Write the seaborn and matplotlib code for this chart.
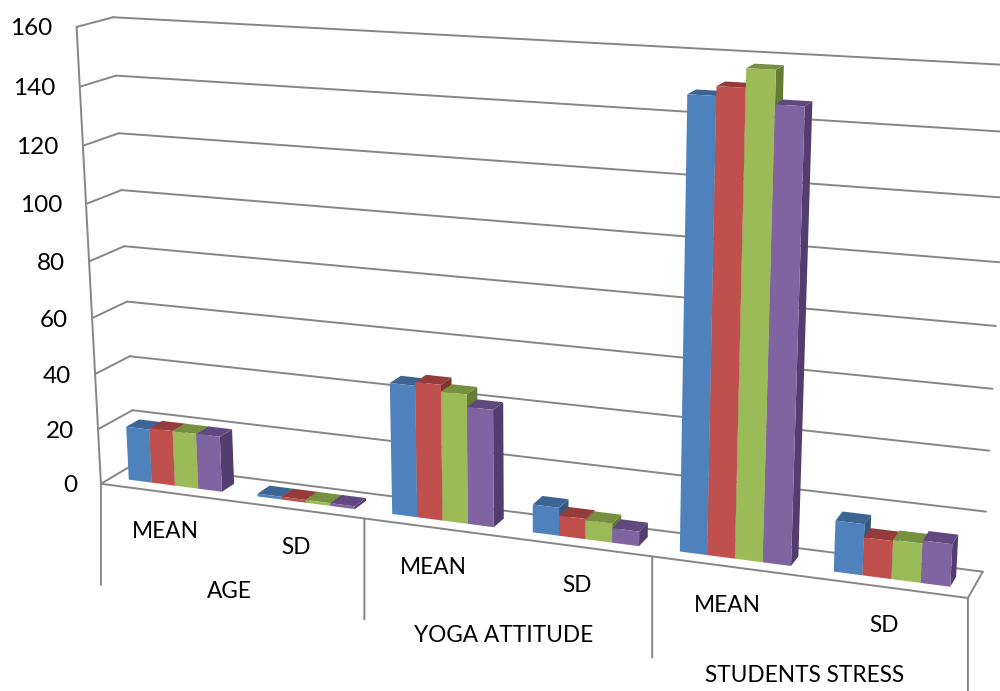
import numpy as np
import pandas as pd
import matplotlib
matplotlib.use("Agg")
import matplotlib.pyplot as plt
from matplotlib.transforms import Transform, Affine2D
import seaborn as sns

# Chart values
measures = ["AGE MEAN", "AGE SD", "YOGA MEAN", "YOGA SD", "STRESS MEAN", "STRESS SD"]
series_1 = [19.5, 1.0, 46, 9.7, 148.5, 17]
series_2 = [20, 1.0, 47.3, 7, 151.5, 12.6]
series_3 = [20, 1.0, 45, 6.6, 157.5, 13]
series_4 = [20, 1.0, 40.7, 5, 147, 14]
y_ticks = [0, 20, 40, 60, 80, 100, 120, 140, 160]
inner_labels = ["MEAN", "SD", "MEAN", "SD", "MEAN", "SD"]
outer_labels = ["AGE", "YOGA ATTITUDE", "STUDENTS STRESS"]
front_colors = ["#4F81BD", "#C0504D", "#9BBB59", "#8064A2"]
top_colors = ["#3C6594", "#953B39", "#75913F", "#61497F"]
side_colors = ["#345781", "#7F3230", "#657C37", "#523D6E"]

W, H = 1000, 691
GRID = "#868686"

# Box corners (category position, value, depth) and where they land on the canvas.
X0, X1, VMAX = -0.5, 5.5, 160
anchors = [
    ((X0, 0, 0), (101, 484)), ((X0, VMAX, 0), (77, 26.5)),
    ((X1, 0, 0), (968, 597)), ((1.5, 0, 0), (364, 519)), ((3.5, 0, 0), (652, 557)),
    ((X0, 0, 1), (135.5, 463)), ((X0, VMAX, 1), (113, 17.5)),
    ((X1, 0, 1), (983, 572)), ((X1, VMAX, 1), (1010, 65.5)),
    ((X0, 100, 1), (121, 190)), ((X1, 100, 1), (999, 262)),
]


def fit_camera(points):
    rows = []
    for (x, v, d), (px, py) in points:
        q = [x, v, d, 1]
        rows.append(q + [0, 0, 0, 0] + [-px * c for c in q])
        rows.append([0, 0, 0, 0] + q + [-py * c for c in q])
    _, _, vt = np.linalg.svd(np.array(rows, float))
    return vt[-1].reshape(3, 4)


CAMERA = fit_camera(anchors)


class Plane(Transform):
    """Projects 2D coordinates on one plane of the 3D box to display pixels."""
    input_dims = output_dims = 2

    def __init__(self, kind, fixed):
        super().__init__()
        self.kind, self.fixed = kind, fixed

    def transform_non_affine(self, values):
        a = np.asarray(values, float)
        f = np.full(len(a), float(self.fixed))
        if self.kind == "front":      # x, value at fixed depth
            xyz = np.c_[a[:, 0], a[:, 1], f]
        elif self.kind == "side":     # depth, value at fixed x
            xyz = np.c_[f, a[:, 1], a[:, 0]]
        else:                         # x, depth at fixed value
            xyz = np.c_[a[:, 0], f, a[:, 1]]
        h = np.c_[xyz, np.ones(len(a))] @ CAMERA.T
        return np.c_[h[:, 0] / h[:, 2], H - h[:, 1] / h[:, 2]]


sns.set_theme(style="white")
plt.rcParams["font.family"] = ["Lato", "DejaVu Sans"]
fig = plt.figure(figsize=(W / 100, H / 100), dpi=100, facecolor="white")
ax = fig.add_axes([0, 0, 1, 1])

table = pd.DataFrame({"measure": measures, "s1": series_1, "s2": series_2,
                      "s3": series_3, "s4": series_4})
long = table.melt(id_vars="measure", var_name="series", value_name="value")

# Front faces come from seaborn; they are then carried onto the front plane of the bars.
DEPTH_A, DEPTH_B = 0.31, 0.69
sns.barplot(data=long, x="measure", y="value", hue="series", order=measures,
            palette=front_colors, saturation=1, width=0.727, gap=0, errorbar=None,
            legend=False, linewidth=0, ax=ax)
ax.axis("off")

bars = [p for p in ax.patches]
front = Plane("front", DEPTH_A)
for i, bar in enumerate(bars):
    series_idx = i // len(measures)
    cat_idx = i % len(measures)
    x0, x1 = bar.get_x(), bar.get_x() + bar.get_width()
    value = bar.get_height()
    base_z = 10 + cat_idx * 10 + series_idx * 2
    bar.set_transform(front)
    bar.set_zorder(base_z + 1)
    ax.fill([DEPTH_A, DEPTH_B, DEPTH_B, DEPTH_A], [0, 0, value, value],
            color=side_colors[series_idx], lw=0, zorder=base_z,
            transform=Plane("side", x1))
    ax.fill([x0, x1, x1, x0], [DEPTH_A, DEPTH_A, DEPTH_B, DEPTH_B],
            color=top_colors[series_idx], lw=0, zorder=base_z,
            transform=Plane("top", value))

# Walls and floor
line_kw = dict(color=GRID, lw=1.4, solid_capstyle="round", zorder=2)
back = Plane("front", 1)
near = Plane("front", 0)
for v in y_ticks:
    ax.plot([X0, X1], [v, v], transform=back, **line_kw)
    ax.plot([0, 1], [v, v], transform=Plane("side", X0), **line_kw)
ax.plot([X0, X0], [0, VMAX], transform=near, **line_kw)
ax.plot([X0, X1], [0, 0], transform=near, **line_kw)
ax.plot([0, 1], [0, 0], transform=Plane("side", X1), **line_kw)

# Value labels beside the axis
PX = 0.72
for v in y_ticks:
    ax.annotate(str(v), xy=(X0, v), xycoords=near, xytext=(-24 * PX, -2 * PX),
                textcoords="offset points", ha="right", va="center",
                fontsize=17.5, color="black")

# Two-level category axis below the floor
for x in [X0, 1.5, 3.5, X1]:
    ax.annotate("", xy=(x, 0), xycoords=near, xytext=(0, -101 * PX),
                textcoords="offset points",
                arrowprops=dict(arrowstyle="-", color=GRID, lw=1.4, shrinkA=0, shrinkB=0))

canvas = Affine2D().scale(1, -1).translate(0, H)
inner_pos = [(165, 532), (296, 547), (433, 568), (577, 585), (727, 606), (884, 625)]
outer_pos = [(229, 591), (504, 635), (805, 675)]
for label, (px, py) in list(zip(inner_labels, inner_pos)) + list(zip(outer_labels, outer_pos)):
    ax.text(px, py, label, transform=canvas, ha="center", va="center",
            fontsize=16.3, color="black")

fig.savefig("out.png", dpi=100, facecolor="white")
